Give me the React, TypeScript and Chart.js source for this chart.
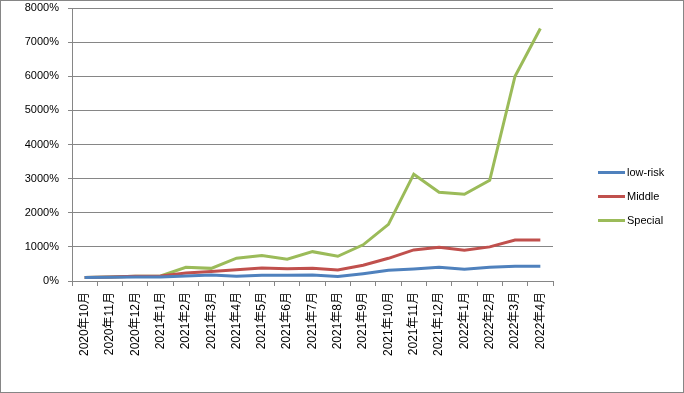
import React, { useEffect, useRef } from "react";
import { Chart, registerables } from "chart.js";

Chart.register(...registerables);

const categories = [
  "2020年10月", "2020年11月", "2020年12月", "2021年1月", "2021年2月", "2021年3月",
  "2021年4月", "2021年5月", "2021年6月", "2021年7月", "2021年8月", "2021年9月",
  "2021年10月", "2021年11月", "2021年12月", "2022年1月", "2022年2月", "2022年3月", "2022年4月",
];

const lowRisk = [100, 110, 115, 120, 150, 175, 140, 165, 165, 175, 130, 215, 315, 350, 400, 345, 400, 430, 430];
const middle = [100, 120, 140, 150, 235, 275, 330, 380, 360, 370, 320, 460, 665, 910, 990, 900, 1000, 1200, 1200];
const special = [100, 120, 140, 150, 400, 370, 670, 750, 640, 860, 725, 1060, 1660, 3130, 2600, 2540, 2950, 6000, 7400];

const seriesNames = ["low-risk", "Middle", "Special"];
const seriesColors = ["#4F81BD", "#C0504D", "#9BBB59"];

const FONT = "'Liberation Sans', 'Noto Sans CJK SC', sans-serif";

export default function App() {
  const ref = useRef<HTMLCanvasElement>(null);

  useEffect(() => {
    document.body.style.margin = "0";
    const canvas = ref.current!;
    const legendPlugin = {
      id: "customLegend",
      afterDraw(chart: any) {
        const ctx = chart.ctx;
        ctx.save();
        ctx.strokeStyle = "#868686";
        ctx.lineWidth = 1;
        ctx.strokeRect(0.5, 0.5, chart.width - 1, chart.height - 1);
        chart.data.datasets.forEach((ds: any, i: number) => {
          const y = 172.5 + i * 24;
          ctx.strokeStyle = ds.borderColor;
          ctx.lineWidth = 3;
          ctx.beginPath();
          ctx.moveTo(598, y);
          ctx.lineTo(625, y);
          ctx.stroke();
          ctx.fillStyle = "#000";
          ctx.font = "11px " + FONT;
          ctx.textBaseline = "middle";
          ctx.textAlign = "left";
          ctx.fillText(ds.label, 627, y);
        });
        ctx.restore();
      },
    };

    const chart = new Chart(canvas, {
      type: "line",
      data: {
        labels: categories,
        datasets: [lowRisk, middle, special].map((d, i) => ({
          label: seriesNames[i],
          data: d,
          borderColor: seriesColors[i],
          backgroundColor: seriesColors[i],
          borderWidth: 3,
          pointRadius: 0,
          tension: 0,
          fill: false,
        })),
      },
      options: {
        responsive: false,
        animation: false,
        layout: { padding: { left: 0, right: 131, top: 8, bottom: 0 } },
        plugins: { legend: { display: false }, tooltip: { enabled: false } },
        scales: {
          x: {
            offset: true,
            grid: {
              display: true,
              offset: true,
              drawOnChartArea: false,
              drawTicks: true,
              tickLength: 5,
              color: "#868686",
            },
            border: { display: true, color: "#868686", width: 1 },
            ticks: {
              autoSkip: false,
              maxRotation: 90,
              minRotation: 90,
              color: "#000",
              font: { family: FONT, size: 12 },
              padding: 6,
            },
            afterFit(scale: any) {
              scale.height = 112;
              scale.paddingLeft = 0;
              scale.paddingRight = 0;
            },
          },
          y: {
            min: 0,
            max: 8000,
            ticks: {
              stepSize: 1000,
              color: "#000",
              font: { family: FONT, size: 11 },
              padding: 9,
              callback: (v: any) => v + "%",
            },
            grid: { color: "#868686", tickLength: 4, drawTicks: true },
            border: { display: true, color: "#868686", width: 1 },
            afterFit(scale: any) {
              scale.width = 72;
              scale.paddingTop = 0;
              scale.paddingBottom = 0;
            },
          },
        },
      },
      plugins: [legendPlugin],
    } as any);
    return () => chart.destroy();
  }, []);

  return (
    <div style={{ position: "absolute", left: 0, top: 0, width: 684, height: 393, background: "#fff" }}>
      <canvas ref={ref} width={684} height={393} style={{ display: "block" }} />
    </div>
  );
}
